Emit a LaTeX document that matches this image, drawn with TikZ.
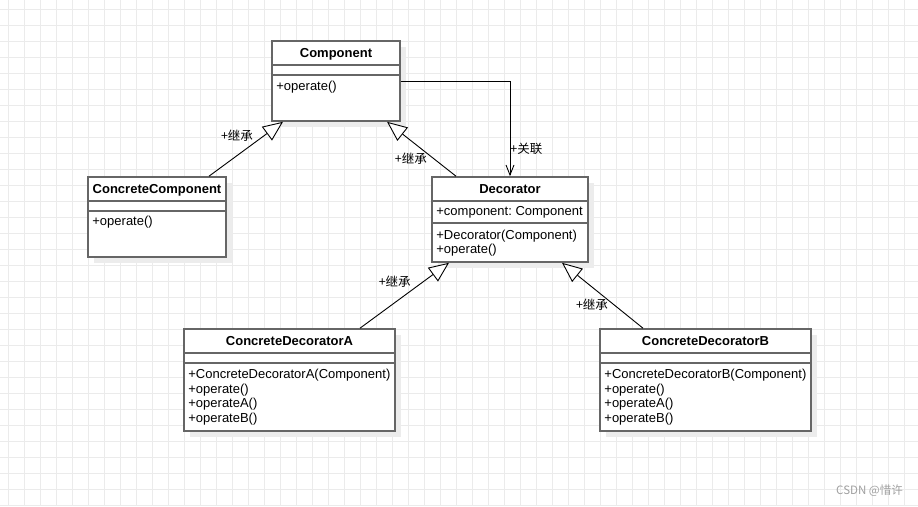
\documentclass[tikz,border=0pt]{standalone}
\usepackage{fontspec}
\setmainfont{Liberation Sans}
\newfontfamily\cjk{Noto Sans CJK SC}
\frenchspacing
\usetikzlibrary{arrows.meta, positioning, shadows}
\definecolor{umlgray}{RGB}{102, 102, 102}
\definecolor{gridgray}{RGB}{235, 235, 235}
\definecolor{shadowgray}{RGB}{236, 236, 236}
\definecolor{markgray}{RGB}{160, 160, 160}
\tikzset{
  umlbox/.style={rectangle, draw=umlgray, line width=1.6pt, fill=white, inner sep=0pt,
                 minimum width=#1,
                 drop shadow={shadow xshift=6pt, shadow yshift=-6pt, fill=shadowgray, opacity=1}},
  umlbox/.default=128pt,
  umltitle/.style={anchor=base, inner sep=0pt, font=\bfseries\fontsize{13}{15}\selectfont},
  % base anchor of a multi-line node = baseline of its last line
  umlmember/.style={anchor=base west, align=left, inner sep=0pt,
                    font=\fontsize{13}{14.7}\selectfont},
  umlsep/.style={draw=umlgray, line width=1.6pt},
  inherit/.style={-{Triangle[open, fill=white, length=20pt, width=17pt]}, line width=0.9pt, color=black},
  assoc/.style={-{Straight Barb[length=10pt, width=8pt]}, line width=0.9pt, color=black},
  rellabel/.style={inner sep=0pt, font=\cjk\fontsize{12.5}{14}\selectfont},
  gridline/.style={draw=gridgray, line width=1pt},
}

\begin{document}
\begin{tikzpicture}[x=1pt, y=-1pt]
  \fill[white] (0,0) rectangle (918,506);
  \useasboundingbox (0,0) rectangle (918,506);
  % background grid
  \foreach \gx in {8,24,...,904} \draw[gridline] (\gx,0) -- (\gx,506);
  \foreach \gy in {9,25,...,505} \draw[gridline] (0,\gy) -- (918,\gy);

  % classes
  \node[umlbox=128pt, minimum height=80pt] (comp) at (336,81) {};
  \node[umlbox=138pt, minimum height=80pt] (ccomp) at (157,217) {};
  \node[umlbox=156pt, minimum height=85pt] (deco) at (510,219.5) {};
  \node[umlbox=211pt, minimum height=102pt] (cda) at (289.5,380) {};
  \node[umlbox=211pt, minimum height=102pt] (cdb) at (705.5,380) {};

  % Component
  \node[umltitle] (comptitle) at ([yshift=-17.3pt]comp.north) {Component};
  \draw[umlsep] ([yshift=-25pt]comp.north west) -- ([yshift=-25pt]comp.north east);
  \draw[umlsep] ([yshift=-35pt]comp.north west) -- ([yshift=-35pt]comp.north east);
  \node[umlmember] (compops) at ([xshift=5pt, yshift=-50.5pt]comp.north west) {+operate()};

  % ConcreteComponent
  \node[umltitle] (ccomptitle) at ([yshift=-17.3pt]ccomp.north) {ConcreteComponent};
  \draw[umlsep] ([yshift=-25pt]ccomp.north west) -- ([yshift=-25pt]ccomp.north east);
  \draw[umlsep] ([yshift=-35pt]ccomp.north west) -- ([yshift=-35pt]ccomp.north east);
  \node[umlmember] (ccompops) at ([xshift=5pt, yshift=-49pt]ccomp.north west) {+operate()};

  % Decorator
  \node[umltitle] (decotitle) at ([yshift=-17.3pt]deco.north) {Decorator};
  \draw[umlsep] ([yshift=-25pt]deco.north west) -- ([yshift=-25pt]deco.north east);
  \node[umlmember] (decoattr) at ([xshift=5pt, yshift=-39.7pt]deco.north west) {+component: Component};
  \draw[umlsep] ([yshift=-47pt]deco.north west) -- ([yshift=-47pt]deco.north east);
  \node[umlmember] (decoops) at ([xshift=5pt, yshift=-77.5pt]deco.north west)
       {+Decorator(Component)\\+operate()};

  % ConcreteDecoratorA
  \node[umltitle] (cdatitle) at ([yshift=-17.3pt]cda.north) {ConcreteDecoratorA};
  \draw[umlsep] ([yshift=-25pt]cda.north west) -- ([yshift=-25pt]cda.north east);
  \draw[umlsep] ([yshift=-35pt]cda.north west) -- ([yshift=-35pt]cda.north east);
  \node[umlmember] (cdaops) at ([xshift=5pt, yshift=-94.4pt]cda.north west)
       {+ConcreteDecoratorA(Component)\\+operate()\\+operateA()\\+operateB()};

  % ConcreteDecoratorB
  \node[umltitle] (cdbtitle) at ([yshift=-17.3pt]cdb.north) {ConcreteDecoratorB};
  \draw[umlsep] ([yshift=-25pt]cdb.north west) -- ([yshift=-25pt]cdb.north east);
  \draw[umlsep] ([yshift=-35pt]cdb.north west) -- ([yshift=-35pt]cdb.north east);
  \node[umlmember] (cdbops) at ([xshift=5pt, yshift=-94.4pt]cdb.north west)
       {+ConcreteDecoratorB(Component)\\+operate()\\+operateA()\\+operateB()};

  % relations
  \draw[inherit] ([xshift=52pt]ccomp.north) -- ([xshift=-53pt]comp.south)
       node[rellabel, pos=0.75, xshift=-27.5pt] {+继承};
  \draw[inherit] ([xshift=-54pt]deco.north) -- ([xshift=51pt]comp.south)
       node[rellabel, pos=0.32, xshift=-23pt] {+继承};
  \draw[inherit] ([xshift=70.5pt]cda.north) -- ([xshift=-61pt]deco.south)
       node[rellabel, pos=0.716, xshift=-29pt] {+继承};
  \draw[inherit] ([xshift=-62.5pt]cdb.north) -- ([xshift=52pt]deco.south)
       node[rellabel, pos=0.358, xshift=-22pt] {+继承};
  \draw[assoc] (comp.east) -| (deco.north)
       node[rellabel, pos=0.855, anchor=west] {+关联};

  % watermark
  \node[rellabel, anchor=east, text=markgray, font=\cjk\fontsize{11.5}{13}\selectfont] (mark) at (903,491) {CSDN @惜许};
\end{tikzpicture}
\end{document}
